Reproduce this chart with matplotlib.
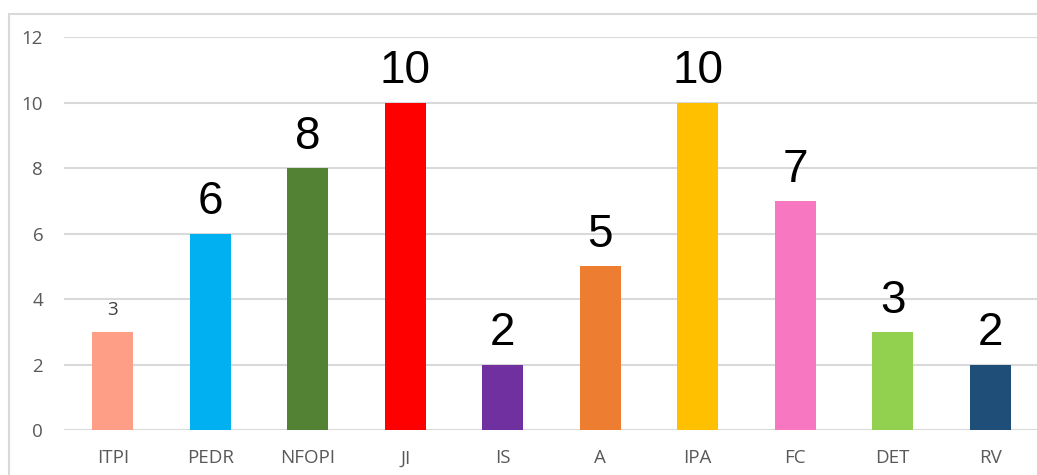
import matplotlib.pyplot as plt
from matplotlib.patches import Rectangle

categories = ["ITPI", "PEDR", "NFOPI", "JI", "IS", "A", "IPA", "FC", "DET", "RV"]
values = [3, 6, 8, 10, 2, 5, 10, 7, 3, 2]
colors = ["#FF9E86", "#00B0F0", "#548235", "#FF0000", "#7030A0",
          "#ED7D31", "#FFC000", "#F777C1", "#92D050", "#1F4E79"]
# the first label is drawn in the small grey style, the rest large and black
big_label = [False, True, True, True, True, True, True, True, True, True]

fig = plt.figure(figsize=(10.37, 4.75), dpi=100)
fig.patches.append(Rectangle((9 / 1037, -0.1), 1.2, 1.1 - 14 / 475,
                             transform=fig.transFigure, fill=False,
                             edgecolor="#d9d9d9", linewidth=1.5))

ax = fig.add_axes([64 / 1037, 45 / 475, 975 / 1037, 393 / 475])
x = range(len(categories))
ax.bar(x, values, width=0.42, color=colors, zorder=3)

ax.set_xlim(-0.5, len(categories) - 0.5)
ax.set_ylim(0, 12)
ax.set_yticks(range(0, 13, 2))
ax.set_xticks(list(x))
ax.set_xticklabels(categories)
ax.yaxis.grid(True, color="#d9d9d9", linewidth=1.5, zorder=0)
ax.set_axisbelow(True)
for s in ax.spines.values():
    s.set_visible(False)
ax.tick_params(length=0, labelcolor="#595959", labelsize=13.5)
ax.tick_params(axis="y", pad=15)
ax.tick_params(axis="x", pad=14)
for lbl in ax.get_xticklabels() + ax.get_yticklabels():
    lbl.set_fontfamily("Open Sans")

for i, v in enumerate(values):
    if big_label[i]:
        ax.annotate(str(v), (i, v), xytext=(0, 13.7), textcoords="offset points",
                    ha="center", va="baseline", fontsize=33,
                    family="Liberation Sans", color="black")
    else:
        ax.annotate(str(v), (i, v), xytext=(0, 12), textcoords="offset points",
                    ha="center", va="baseline", fontsize=13.5,
                    family="Open Sans", color="#404040")

fig.savefig("out.png", dpi=100)
